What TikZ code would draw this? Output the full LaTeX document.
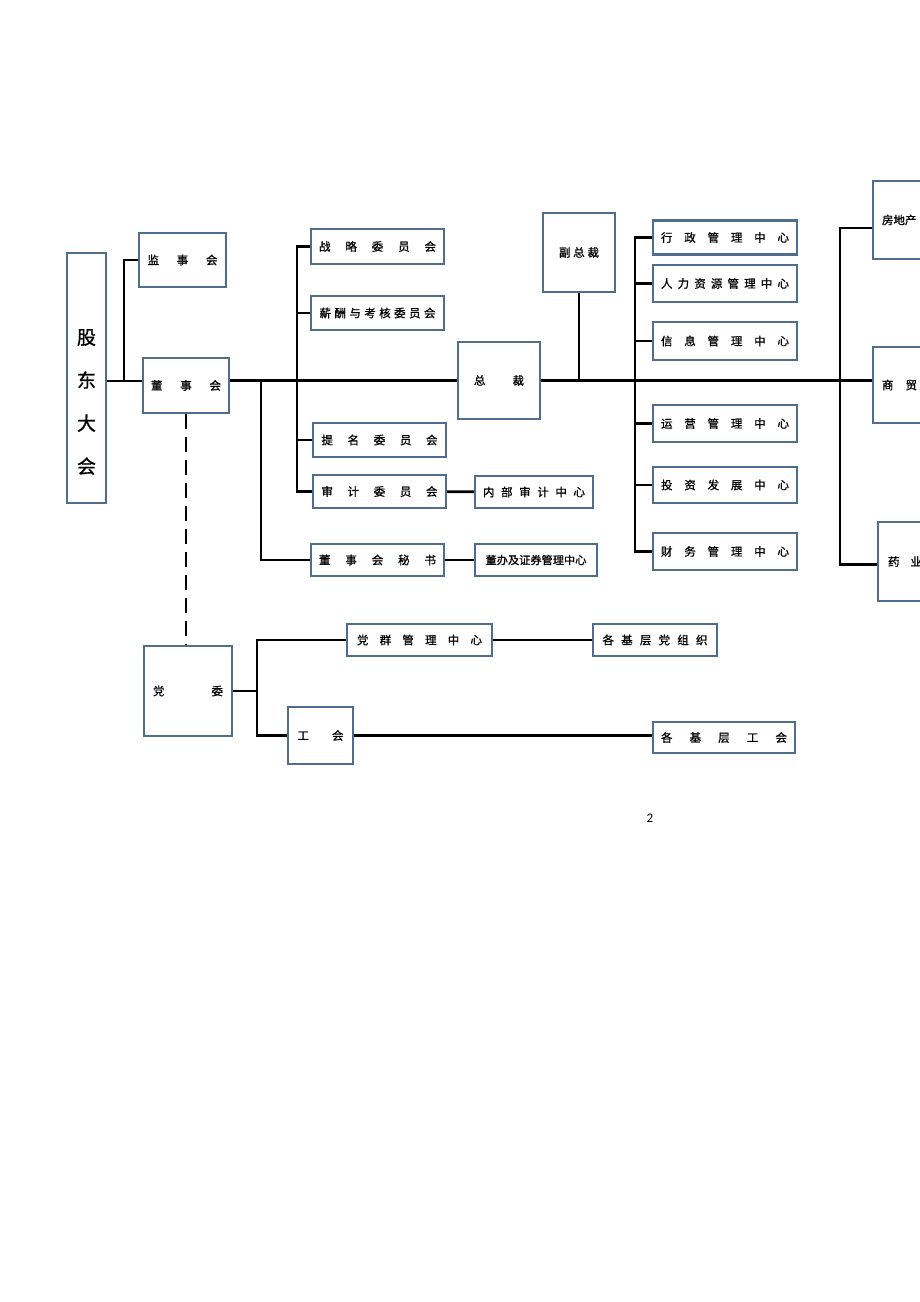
\documentclass[tikz,border=0pt]{standalone}
\usepackage{fontspec}
\usepackage{tikz}
\usepackage{xcolor}
\newfontfamily\cjk{Noto Sans CJK SC}[FakeBold=1]
\newfontfamily\pagefont{Carlito}
\definecolor{boxblue}{RGB}{79,109,140}
\newcommand{\stretchtext}[2]{\makebox[#1][s]{#2}}

\begin{document}
\begin{tikzpicture}[x=1pt,y=-1pt,
    box/.style={draw=boxblue, line width=2.4pt, fill=white, inner sep=0pt,
      font=\cjk\fontsize{11.5}{13}\selectfont},
    link/.style={line width=2.7pt, black},
    dashlink/.style={link, dash pattern=on 15pt off 8pt}]
      \useasboundingbox (0,0) rectangle (920,1302);

      % shareholders, board
      \node[box, minimum width=39, minimum height=250] (gudong) at (86.5,378) {};
      \node[font=\cjk\fontsize{19}{43}\selectfont, align=center] (gudonglabel)
        at (86.5,402) {股\\东\\大\\会};
      \node[box, minimum width=87, minimum height=54] (jianshi) at (182.5,260)
        {\stretchtext{70pt}{监 事 会}};
      \node[box, minimum width=86, minimum height=55] (dongshi) at (186,385.5)
        {\stretchtext{70pt}{董 事 会}};

      % committees
      \node[box, minimum width=133, minimum height=35] (zhanlue) at (377.5,246.5)
        {\stretchtext{117pt}{战 略 委 员 会}};
      \node[box, minimum width=133, minimum height=34] (xinchou) at (377.5,313)
        {\stretchtext{116pt}{薪 酬 与 考 核 委 员 会}};
      \node[box, minimum width=133, minimum height=34] (timing) at (379.5,440)
        {\stretchtext{116pt}{提 名 委 员 会}};
      \node[box, minimum width=133, minimum height=33] (shenji) at (379.5,491.5)
        {\stretchtext{116pt}{审 计 委 员 会}};
      \node[box, minimum width=118, minimum height=32] (neibu) at (534,492)
        {\stretchtext{102pt}{内 部 审 计 中 心}};
      \node[box, minimum width=133, minimum height=32] (mishu) at (377.5,560)
        {\stretchtext{117pt}{董 事 会 秘 书}};
      \node[box, minimum width=122, minimum height=32] (dongban) at (536,560)
        {\fontsize{11.2}{13}\selectfont 董办及证券管理中心};

      % president
      \node[box, minimum width=82, minimum height=77] (zongcai) at (499,380.5)
        {\stretchtext{50pt}{总 裁}};
      \node[box, minimum width=72, minimum height=79] (fuzong) at (579,252.5)
        {\stretchtext{40pt}{副 总 裁}};

      % centres
      \node[box, minimum width=144, minimum height=34] (xingzheng) at (725,237.5)
        {\stretchtext{128pt}{行 政 管 理 中 心}};
      \node[box, minimum width=144, minimum height=37] (renli) at (725,283.5)
        {\stretchtext{128pt}{人 力 资 源 管 理 中 心}};
      \node[box, minimum width=144, minimum height=38] (xinxi) at (725,341)
        {\stretchtext{128pt}{信 息 管 理 中 心}};
      \node[box, minimum width=144, minimum height=37] (yunying) at (725,423.5)
        {\stretchtext{128pt}{运 营 管 理 中 心}};
      \node[box, minimum width=144, minimum height=36] (touzi) at (725,485)
        {\stretchtext{128pt}{投 资 发 展 中 心}};
      \node[box, minimum width=144, minimum height=37] (caiwu) at (725,551.5)
        {\stretchtext{128pt}{财 务 管 理 中 心}};

      % companies, cut by the page edge
      \node[box, minimum width=87, minimum height=78] (fangdichan) at (916.5,220)
        {\makebox[87pt][l]{\hspace{9pt}房地产}};
      \node[box, minimum width=87, minimum height=76] (shangmao) at (916.5,385)
        {\makebox[87pt][l]{\hspace{9pt}\stretchtext{35pt}{商 贸}}};
      \node[box, minimum width=87, minimum height=79] (yaoye) at (921.5,561.5)
        {\makebox[87pt][l]{\hspace{10pt}\stretchtext{34pt}{药 业}}};

      % party committee, union
      \node[box, minimum width=88, minimum height=90] (dangwei) at (188,691)
        {\stretchtext{70pt}{党 委}};
      \node[box, minimum width=145, minimum height=32] (dangqun) at (419.5,640)
        {\stretchtext{125pt}{党 群 管 理 中 心}};
      \node[box, minimum width=124, minimum height=32] (jicengdang) at (655,640)
        {\stretchtext{105pt}{各 基 层 党 组 织}};
      \node[box, minimum width=65, minimum height=57] (gonghui) at (320.5,735.5)
        {\stretchtext{46pt}{工 会}};
      \node[box, minimum width=142, minimum height=31] (jicenggh) at (724,737.5)
        {\stretchtext{126pt}{各 基 层 工 会}};

      \node[font=\pagefont\fontsize{13}{15}\selectfont] (pagenum) at (650,818) {2};

      \coordinate (split) at (124,381);
      \coordinate (wbus) at (297,0);
      \coordinate (sbus) at (261,0);
      \coordinate (cbus) at (635,0);
      \coordinate (gbus) at (840,0);
      \coordinate (pbus) at (257,0);

      \draw[link] (gudong.east |- split) -- (dongshi.west |- split);
      \draw[link] (split) |- (jianshi.west);
      \draw[link] (dongshi.east |- zongcai) -- (zongcai.west);

      \draw[link] (zhanlue.west) -- (zhanlue.west -| wbus) -- (shenji.west -| wbus)
        -- (shenji.west);
      \draw[link] (xinchou.west -| wbus) -- (xinchou.west);
      \draw[link] (timing.west -| wbus) -- (timing.west);
      \draw[link] (sbus |- zongcai) |- (mishu.west);
      \draw[link] (shenji) -- (neibu);
      \draw[link] (mishu) -- (dongban);

      \draw[link] (fuzong.south) -- (fuzong.south |- zongcai);
      \draw[link] (zongcai.east) -- (zongcai.east -| shangmao.west);

      \draw[link] (xingzheng.west) -- (xingzheng.west -| cbus) -- (caiwu.west -| cbus)
        -- (caiwu.west);
      \foreach \n in {renli,xinxi,yunying,touzi}
        \draw[link] (\n.west -| cbus) -- (\n.west);

      \draw[link] ([yshift=-8]fangdichan.west) -- ([yshift=-8]fangdichan.west -| gbus)
        -- ([yshift=-3]yaoye.west -| gbus) -- ([yshift=-3]yaoye.west);

      \draw[dashlink] (dongshi.south) -- (dongshi.south |- dangwei.north);
      \draw[link] (dangwei.east) -- (dangwei.east -| pbus);
      \draw[link] (dangqun.west) -- (dangqun.west -| pbus) -- (gonghui.west -| pbus)
        -- (gonghui.west);
      \draw[link] (dangqun) -- (jicengdang);
      \draw[link] (gonghui.east) -- (gonghui.east -| jicenggh.west);
    \end{tikzpicture}
\end{document}
